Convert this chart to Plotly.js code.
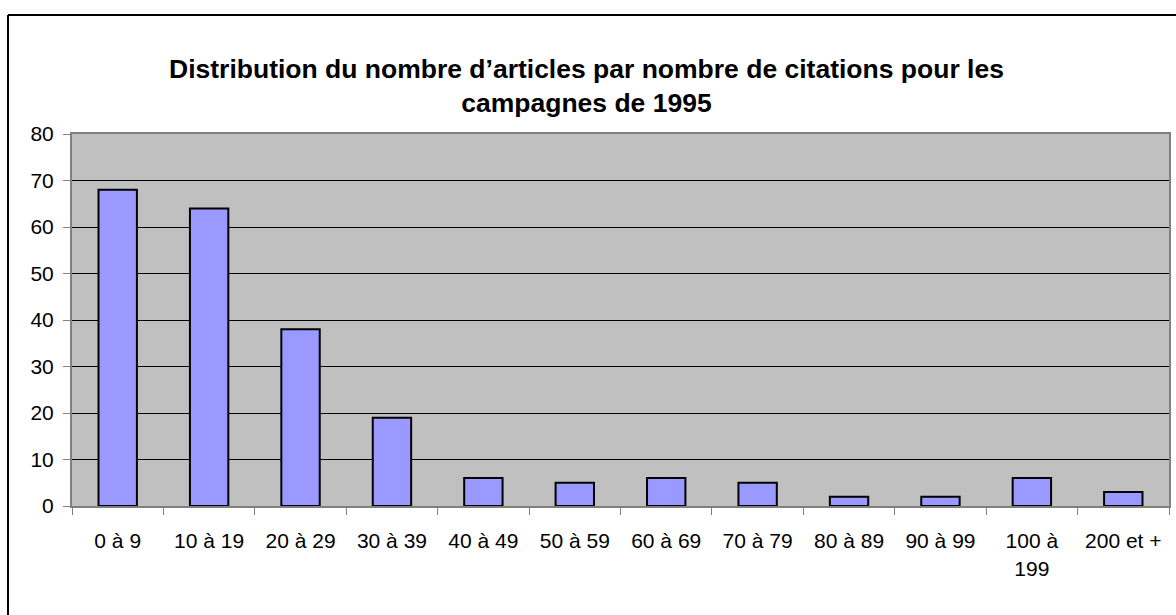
<!DOCTYPE html>
<html>
<head>
<meta charset="utf-8">
<script src="https://cdn.plot.ly/plotly-3.0.1.min.js"></script>
<style>
html,body{margin:0;padding:0;background:#fff;}
#chart{width:1176px;height:615px;}
</style>
</head>
<body>
<div id="chart"></div>
<script>
const categories = ["0 à 9","10 à 19","20 à 29","30 à 39","40 à 49","50 à 59","60 à 69","70 à 79","80 à 89","90 à 99","100 à<br>199","200 et +"];
const values = [68,64,38,19,6,5,6,5,2,2,6,3];
const yTicks = [0,10,20,30,40,50,60,70,80];

const W = 1176, H = 615;
const L = 72, R = 7, T = 134, B = 109;
const pw = W - L - R, ph = H - T - B;
const px = x => (x - L) / pw;
const py = y => (H - B - y) / ph;

const trace = {
  type: 'bar',
  x: categories,
  y: values,
  marker: {color: '#9999FF', line: {color: '#000000', width: 2}},
  hoverinfo: 'x+y'
};

const layout = {
  width: W, height: H,
  margin: {l: L, r: R, t: T, b: B, pad: 0},
  paper_bgcolor: '#FFFFFF',
  plot_bgcolor: '#C0C0C0',
  bargap: 0.58,
  showlegend: false,
  font: {family: 'Liberation Sans, Arial, sans-serif', color: '#000000', size: 21},
  title: {
    text: 'Distribution du nombre d’articles par nombre de citations pour les<br>campagnes de 1995',
    font: {family: 'Liberation Sans, Arial, sans-serif', size: 26.5, color: '#000000', weight: 'bold'},
    x: 0.4987, xanchor: 'center', y: 1 - 78/615, yanchor: 'middle'
  },
  xaxis: {
    type: 'category',
    tickson: 'boundaries',
    ticks: 'outside', ticklen: 7, tickcolor: '#808080', tickwidth: 1,
    showline: true, linecolor: '#808080', linewidth: 2, mirror: true,
    showgrid: false, zeroline: false,
    tickfont: {size: 21},
    ticklabelstandoff: 15,
    tickangle: 0,
    automargin: false
  },
  yaxis: {
    range: [0, 80],
    tickvals: yTicks,
    ticktext: yTicks.map(String),
    ticks: 'outside', ticklen: 7, tickcolor: '#808080', tickwidth: 1,
    showline: true, linecolor: '#808080', linewidth: 2, mirror: true,
    showgrid: true, gridcolor: '#000000', gridwidth: 1,
    zeroline: false,
    tickfont: {size: 21},
    ticklabelstandoff: 5,
    automargin: false
  },
  shapes: [
    {type: 'line', xref: 'paper', yref: 'paper', x0: px(8), x1: px(8), y0: py(15), y1: py(630), line: {color: '#000000', width: 2}},
    {type: 'line', xref: 'paper', yref: 'paper', x0: px(8), x1: px(1200), y0: py(15), y1: py(15), line: {color: '#000000', width: 2}}
  ]
};

Plotly.newPlot('chart', [trace], layout, {displayModeBar: false, staticPlot: true});
</script>
</body>
</html>
